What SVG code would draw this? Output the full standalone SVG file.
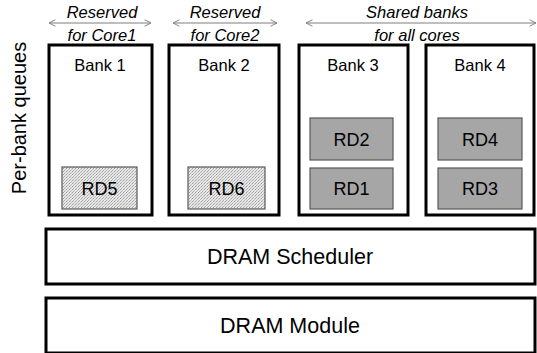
<svg xmlns="http://www.w3.org/2000/svg" width="537" height="353" viewBox="0 0 537 353">
  <style>
    .box { fill: #ffffff; stroke: #000000; stroke-width: 3; }
    .rd { fill: #a6a6a6; stroke: #595959; stroke-width: 1.2; }
    .rdp { fill: url(#stipple); stroke: #595959; stroke-width: 1.2; }
    .lbl { font-family: "Liberation Sans", Arial, sans-serif; font-size: 16.5px; fill: #000; text-anchor: middle; }
    .rdt { font-family: "Liberation Sans", Arial, sans-serif; font-size: 18px; fill: #000; text-anchor: middle; }
    .big { font-family: "Liberation Sans", Arial, sans-serif; font-size: 21.5px; fill: #000; text-anchor: middle; }
    .side { font-family: "Liberation Sans", Arial, sans-serif; font-size: 20px; fill: #000; text-anchor: middle; }
    .note { font-family: "Liberation Sans", Arial, sans-serif; font-size: 16.5px; font-style: italic; fill: #000; text-anchor: middle; }
    .span { stroke: #7f7f7f; stroke-width: 1.2; fill: none; marker-start: url(#tip); marker-end: url(#tip); }
  </style>
  <defs>
    <marker id="tip" viewBox="0 0 10 10" refX="9" refY="5" markerWidth="8" markerHeight="8" markerUnits="userSpaceOnUse" orient="auto-start-reverse">
      <path d="M1,1 L9,5 L1,9" fill="none" stroke="#7f7f7f" stroke-width="1.2"/>
    </marker>
    <pattern id="stipple" width="3" height="3" patternUnits="userSpaceOnUse">
      <rect width="3" height="3" fill="#e6e6e6"/>
      <rect x="0" y="0" width="1" height="1" fill="#a0a0a0"/>
      <rect x="2" y="1" width="1" height="1" fill="#c0c0c0"/>
      <rect x="1" y="2" width="1" height="1" fill="#b0b0b0"/>
    </pattern>
  </defs>

  <!-- side label -->
  <text class="side" transform="translate(26,118) rotate(-90)">Per-bank queues</text>

  <!-- span annotations -->
  <g id="connectors">
    <line class="span" x1="49" y1="23" x2="151" y2="23"/>
    <line class="span" x1="173" y1="23" x2="277" y2="23"/>
    <line class="span" x1="306" y1="23" x2="536" y2="23"/>
  </g>
  <g id="notes">
    <text class="note" x="102" y="18">Reserved</text>
    <text class="note" x="102" y="41">for Core1</text>
    <text class="note" x="225" y="18">Reserved</text>
    <text class="note" x="225" y="41">for Core2</text>
    <text class="note" x="417" y="18">Shared banks</text>
    <text class="note" x="417" y="41">for all cores</text>
  </g>

  <g id="bank1">
    <rect class="box" x="49" y="45" width="103" height="170"/>
    <text class="lbl" x="100" y="71">Bank 1</text>
    <g id="rd5">
      <rect class="rdp" x="62" y="167" width="75" height="42"/>
      <text class="rdt" x="99.5" y="195">RD5</text>
    </g>
  </g>

  <g id="bank2">
    <rect class="box" x="169" y="45" width="110" height="170"/>
    <text class="lbl" x="224" y="71">Bank 2</text>
    <g id="rd6">
      <rect class="rdp" x="188" y="167" width="77" height="42"/>
      <text class="rdt" x="226.5" y="195">RD6</text>
    </g>
  </g>

  <g id="bank3">
    <rect class="box" x="299" y="45" width="109" height="170"/>
    <text class="lbl" x="353" y="71">Bank 3</text>
    <g id="rd2">
      <rect class="rd" x="310" y="118" width="83" height="42"/>
      <text class="rdt" x="351.5" y="146">RD2</text>
    </g>
    <g id="rd1">
      <rect class="rd" x="310" y="168" width="83" height="41"/>
      <text class="rdt" x="351.5" y="195">RD1</text>
    </g>
  </g>

  <g id="bank4">
    <rect class="box" x="426" y="45" width="108" height="170"/>
    <text class="lbl" x="480" y="71">Bank 4</text>
    <g id="rd4">
      <rect class="rd" x="438" y="118" width="84" height="42"/>
      <text class="rdt" x="480" y="146">RD4</text>
    </g>
    <g id="rd3">
      <rect class="rd" x="438" y="168" width="84" height="41"/>
      <text class="rdt" x="480" y="195">RD3</text>
    </g>
  </g>

  <g id="scheduler">
    <rect class="box" x="46" y="229" width="489" height="55"/>
    <text class="big" x="290" y="264">DRAM Scheduler</text>
  </g>

  <g id="module">
    <rect class="box" x="46" y="298" width="489" height="55"/>
    <text class="big" x="290" y="333">DRAM Module</text>
  </g>
</svg>
